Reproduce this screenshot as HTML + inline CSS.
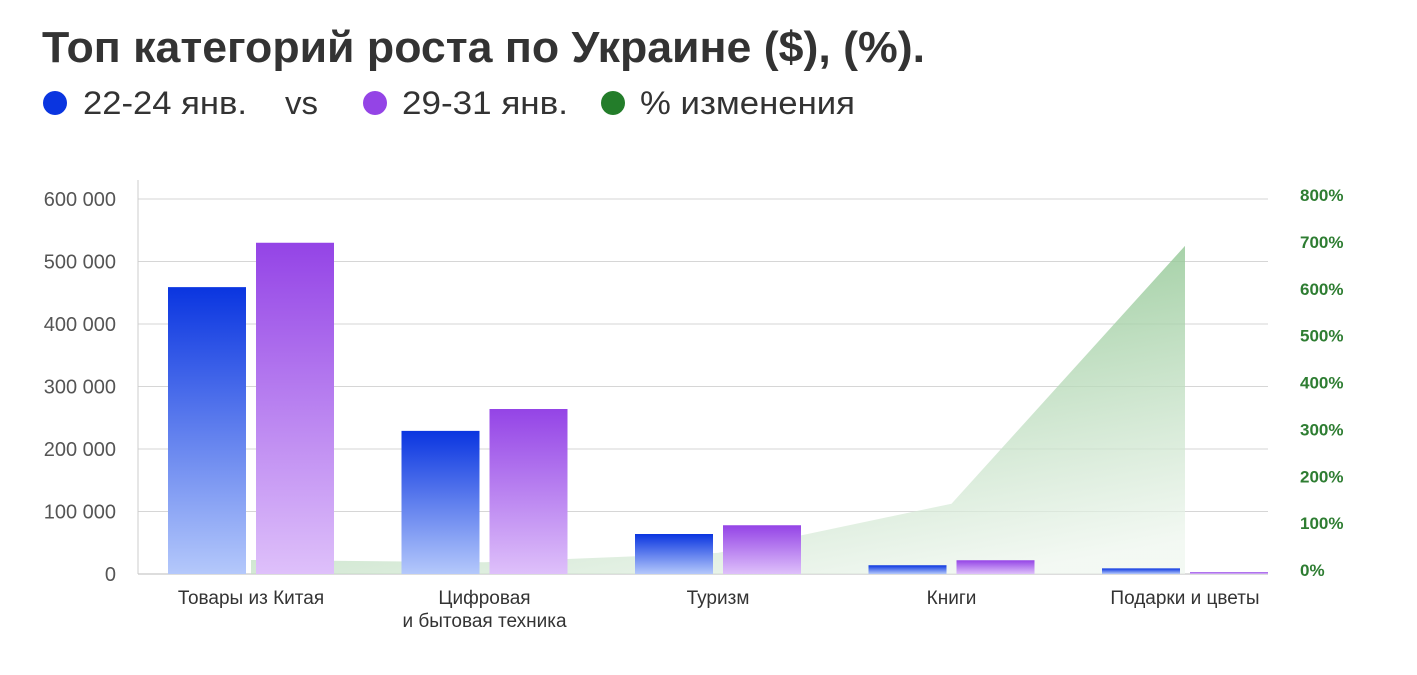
<!DOCTYPE html>
<html><head><meta charset="utf-8"><style>
body{margin:0;background:#fff;}
svg{display:block;font-family:"Liberation Sans","Noto Sans CJK SC",sans-serif;}
</style></head><body>
<svg id="chart" width="1417" height="675" viewBox="0 0 1417 675" xmlns="http://www.w3.org/2000/svg">
<defs>
<linearGradient id="gBlue" x1="0" y1="0" x2="0" y2="1"><stop offset="0" stop-color="#0a35e0"/><stop offset="1" stop-color="#b4c8fb"/></linearGradient>
<linearGradient id="gPurple" x1="0" y1="0" x2="0" y2="1"><stop offset="0" stop-color="#9444e6"/><stop offset="1" stop-color="#dec0fa"/></linearGradient>
<linearGradient id="gGreen" x1="0.3" y1="0" x2="0.8" y2="1"><stop offset="0" stop-color="#6fb572" stop-opacity="0.85"/><stop offset="1" stop-color="#eef6ee" stop-opacity="0.7"/></linearGradient>
</defs>
<text x="42" y="62" font-size="44" font-weight="bold" fill="#333" textLength="883" lengthAdjust="spacingAndGlyphs">Топ категорий роста по Украине ($), (%).</text>
<g font-size="32" fill="#333">
<circle cx="55" cy="103" r="12" fill="#0a35e0"/>
<text x="83" y="114" textLength="164" lengthAdjust="spacingAndGlyphs">22-24 янв.</text>
<text x="285" y="114" textLength="33" lengthAdjust="spacingAndGlyphs">vs</text>
<circle cx="375" cy="103" r="12" fill="#9444e6"/>
<text x="402" y="114" textLength="166" lengthAdjust="spacingAndGlyphs">29-31 янв.</text>
<circle cx="613" cy="103" r="12" fill="#237d2a"/>
<text x="640" y="114" textLength="215" lengthAdjust="spacingAndGlyphs">% изменения</text>
</g>
<g id="plot"></g>
</svg>
<script>
const categories = [["Товары из Китая"],["Цифровая","и бытовая техника"],["Туризм"],["Книги"],["Подарки и цветы"]];
const series1 = [459000, 229000, 64000, 14000, 9000];
const series2 = [530000, 264000, 78000, 22000, 3000];
const pctChange = [30, 25, 45, 150, 700];
const leftTicks = [0,100000,200000,300000,400000,500000,600000];
const rightTicks = [0,100,200,300,400,500,600,700,800];

const NS="http://www.w3.org/2000/svg";
const plot=document.getElementById('plot');
const X0=138, X1=1268, Y0=574, Y1=199;
const yL=v=>Y0-(v/600000)*(Y0-Y1);
const yR=v=>Y0-(v/800)*(Y0-Y1);
const groupW=233.5, firstCenter=251;
const cx=i=>firstCenter+groupW*i;
const barW=78, gap=10;
function mk(tag,attrs){const e=document.createElementNS(NS,tag);for(const k in attrs)e.setAttribute(k,attrs[k]);plot.appendChild(e);return e;}
function fmt(v){return v===0?"0":String(v).replace(/\B(?=(\d{3})+(?!\d))/g," ");}

leftTicks.forEach(t=>{
  const l=mk('line',{x1:X0,x2:X1,y1:yL(t),y2:yL(t),stroke:t===0?'#bbb':'#d6d6d6','stroke-width':1});
  
  
  const tx=mk('text',{x:116,y:yL(t)+7,'text-anchor':'end','font-size':20,fill:'#555'});
  tx.textContent=fmt(t);
  
  
});
const ax=mk('line',{x1:X0,x2:X0,y1:180,y2:Y0,stroke:'#ccc','stroke-width':1});


rightTicks.forEach(t=>{
  const tx=mk('text',{x:1300,y:yR(t)+2,'font-size':17,'font-weight':'bold',fill:'#2e7d32'});
  tx.textContent=t+'%';
  
  
});
let d='M'+cx(0)+','+Y0;
pctChange.forEach((v,i)=>{d+=' L'+cx(i)+','+yR(v);});
d+=' L'+cx(pctChange.length-1)+','+Y0+' Z';
const area=mk('path',{d:d,fill:'url(#gGreen)'});


categories.forEach((c,i)=>{
  const b1=mk('rect',{x:cx(i)-gap/2-barW,y:yL(series1[i]),width:barW,height:Y0-yL(series1[i]),fill:'url(#gBlue)'});
  
  
  const b2=mk('rect',{x:cx(i)+gap/2,y:yL(series2[i]),width:barW,height:Y0-yL(series2[i]),fill:'url(#gPurple)'});
  
  
  c.forEach((line,j)=>{
    const t=mk('text',{x:cx(i),y:604+j*23,'text-anchor':'middle','font-size':19,fill:'#333'});
    t.textContent=line;
    
    
  });
});
</script>
</body></html>
